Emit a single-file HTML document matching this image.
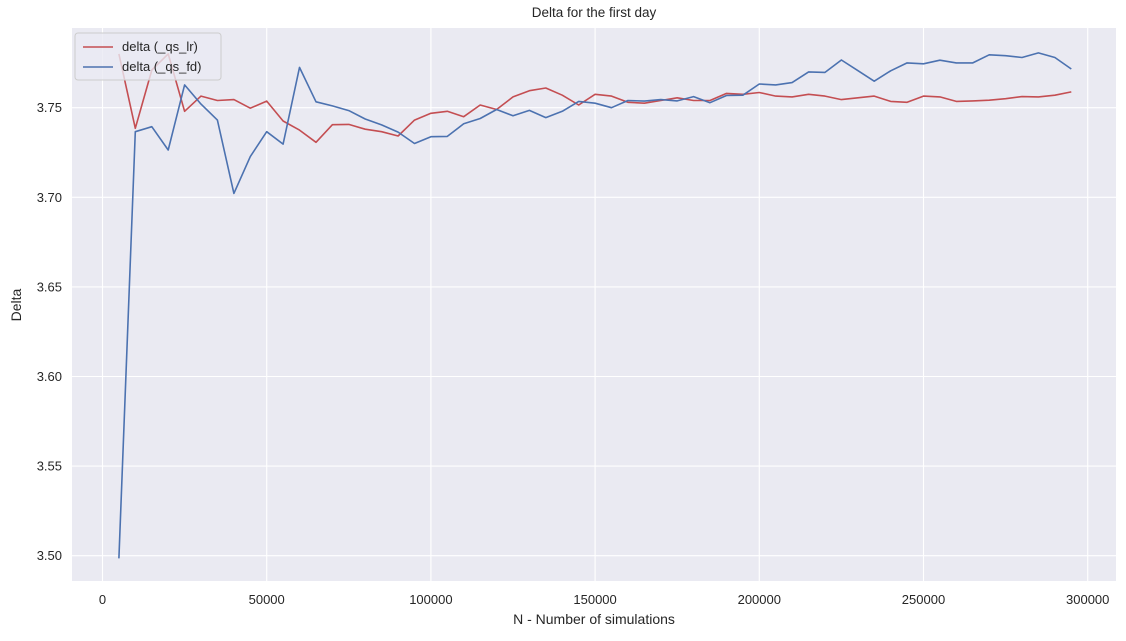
<!DOCTYPE html>
<html><head><meta charset="utf-8"><style>
body{margin:0;background:#fff;}
svg text{font-family:"Liberation Sans","DejaVu Sans",sans-serif;fill:#262626;}
</style></head><body>
<svg id="chart" width="1126" height="636" xmlns="http://www.w3.org/2000/svg">
<text x="594" y="17" font-size="13.5" text-anchor="middle">Delta for the first day</text>
<rect x="72" y="28" width="1044" height="553" fill="#eaeaf2"/>
<g id="grid"></g>
<g id="series"></g>
<text x="594" y="624" font-size="14" text-anchor="middle">N - Number of simulations</text>
<text x="21" y="305" font-size="14" text-anchor="middle" transform="rotate(-90 21 305)">Delta</text>
<g>
<rect x="75" y="33" width="146" height="47" rx="3" fill="#eaeaf2" fill-opacity="0.8" stroke="#cccccc" stroke-width="1"/>
<line x1="83" y1="47" x2="113" y2="47" stroke="#c44e52" stroke-width="1.6"/>
<text x="122" y="51" font-size="13">delta (_qs_lr)</text>
<line x1="83" y1="67" x2="113" y2="67" stroke="#4c72b0" stroke-width="1.6"/>
<text x="122" y="71" font-size="13">delta (_qs_fd)</text>
</g>
</svg>
<script>
const xTicks=[0,50000,100000,150000,200000,250000,300000];
const yTicks=[3.50,3.55,3.60,3.65,3.70,3.75];
const nValues=[];for(let n=5000;n<=295000;n+=5000)nValues.push(n);
const deltaLr=[3.780,3.7385,3.771,3.780,3.748,3.7565,3.754,3.7545,3.7497,3.7537,3.7426,3.7375,3.7307,3.7405,3.7407,3.738,3.7366,3.7342,3.7431,3.7469,3.748,3.745,3.7515,3.749,3.756,3.7595,3.761,3.757,3.7515,3.7575,3.7565,3.753,3.7525,3.754,3.7555,3.754,3.754,3.758,3.7575,3.7585,3.7565,3.756,3.7575,3.7565,3.7545,3.7555,3.7565,3.7535,3.753,3.7565,3.756,3.7535,3.7538,3.7542,3.755,3.7562,3.756,3.757,3.7588];
const deltaFd=[3.4985,3.7366,3.7394,3.7264,3.7627,3.752,3.7431,3.7022,3.7227,3.7366,3.7297,3.7725,3.7533,3.751,3.7484,3.7437,3.7404,3.7364,3.730,3.7338,3.734,3.741,3.744,3.749,3.7455,3.7485,3.7445,3.748,3.7535,3.7525,3.750,3.754,3.7537,3.7545,3.7538,3.7562,3.7528,3.7568,3.757,3.7632,3.7627,3.764,3.770,3.7697,3.7766,3.7707,3.7648,3.7706,3.775,3.7745,3.7765,3.775,3.775,3.7795,3.779,3.778,3.7806,3.778,3.7716];
const NS="http://www.w3.org/2000/svg";
const xs=v=>102.5+v*(164.2/50000);
const ys=v=>107.7+(3.75-v)*1792;
const grid=document.getElementById('grid'),ser=document.getElementById('series'),svg=document.getElementById('chart');
function mk(t,a,p){const e=document.createElementNS(NS,t);for(const k in a)e.setAttribute(k,a[k]);p.appendChild(e);return e;}
xTicks.forEach(t=>{
 const l=mk('line',{x1:xs(t),x2:xs(t),y1:28,y2:581,stroke:'#fff','stroke-width':1.1},grid);
 
 
 const tx=mk('text',{x:xs(t),y:604,'font-size':13,'text-anchor':'middle'},svg);
 tx.textContent=String(t);
 
 
});
yTicks.forEach(t=>{
 const l=mk('line',{x1:72,x2:1116,y1:ys(t),y2:ys(t),stroke:'#fff','stroke-width':1.1},grid);
 
 
 const tx=mk('text',{x:62,y:ys(t)+4.5,'font-size':13,'text-anchor':'end'},svg);
 tx.textContent=t.toFixed(2);
 
 
});
function line(vals,color,name){
 const d=vals.map((v,i)=>(i?'L':'M')+xs(nValues[i]).toFixed(1)+' '+ys(v).toFixed(1)).join(' ');
 const p=mk('path',{d:d,fill:'none',stroke:color,'stroke-width':1.6,'stroke-linejoin':'round'},ser);
 
 
}
line(deltaLr,'#c44e52','line-delta-qs-lr');
line(deltaFd,'#4c72b0','line-delta-qs-fd');
</script>
</body></html>
